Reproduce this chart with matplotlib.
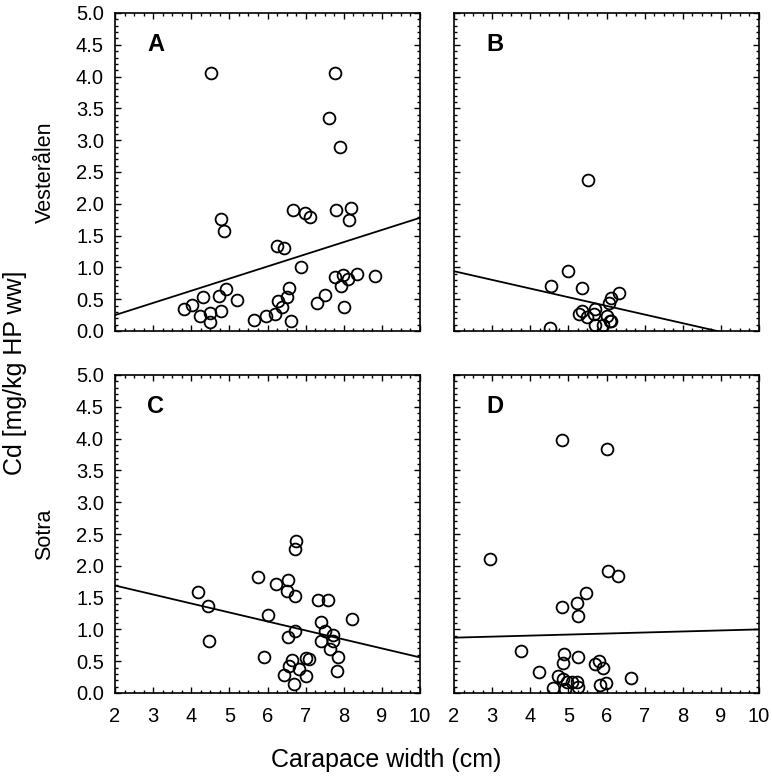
import matplotlib
matplotlib.use("Agg")
import matplotlib.pyplot as plt
from matplotlib.ticker import MultipleLocator, FormatStrFormatter

plt.rcParams["font.family"] = ["Liberation Sans", "DejaVu Sans"]

# ── data (carapace width cm, Cd mg/kg) ────────────────────────────────────
a_x = [4.53, 7.76, 7.60, 7.90, 4.79, 4.86, 6.68, 6.99, 7.12, 7.80, 8.20,
       8.13, 6.26, 6.44, 6.88, 7.78, 7.99, 7.94, 8.12, 8.34, 8.82, 8.00,
       3.82, 4.03, 4.32, 4.24, 4.48, 4.48, 4.73, 4.77, 4.92, 5.21, 5.64,
       5.96, 6.19, 6.28, 6.39, 6.51, 6.56, 6.61, 7.30, 7.50]
a_y = [4.05, 4.05, 3.35, 2.89, 1.76, 1.58, 1.91, 1.85, 1.80, 1.91, 1.93,
       1.75, 1.33, 1.31, 1.00, 0.85, 0.88, 0.70, 0.81, 0.89, 0.87, 0.38,
       0.34, 0.41, 0.53, 0.24, 0.28, 0.14, 0.55, 0.32, 0.66, 0.49, 0.17,
       0.24, 0.26, 0.47, 0.38, 0.54, 0.68, 0.15, 0.44, 0.57]

b_x = [5.51, 4.98, 4.55, 5.37, 6.34, 6.11, 6.07, 5.70, 5.37, 5.29, 5.48,
       5.67, 6.00, 5.70, 5.92, 6.08, 6.12, 4.53]
b_y = [2.38, 0.94, 0.70, 0.68, 0.60, 0.52, 0.44, 0.35, 0.31, 0.26, 0.22,
       0.27, 0.23, 0.10, 0.10, 0.15, 0.16, 0.04]

c_x = [6.76, 6.72, 5.75, 6.22, 6.54, 6.51, 6.73, 4.18, 4.43, 4.46, 6.02,
       7.32, 7.58, 8.22, 7.40, 7.50, 6.72, 6.54, 7.72, 7.41, 7.72, 7.64,
       7.86, 7.81, 5.90, 6.64, 6.57, 6.83, 7.02, 7.09, 6.44, 7.02, 6.69]
c_y = [2.39, 2.26, 1.83, 1.71, 1.78, 1.60, 1.53, 1.59, 1.37, 0.82, 1.23,
       1.47, 1.46, 1.16, 1.12, 0.97, 0.97, 0.88, 0.91, 0.81, 0.82, 0.69,
       0.56, 0.34, 0.56, 0.52, 0.42, 0.38, 0.55, 0.54, 0.28, 0.26, 0.14]

d_x = [4.84, 6.02, 2.95, 6.05, 6.30, 5.46, 5.23, 4.84, 5.26, 3.76, 4.88,
       5.26, 4.85, 5.70, 5.81, 5.90, 4.24, 6.63, 4.74, 4.87, 4.97, 5.09,
       5.22, 5.26, 4.59, 4.90, 5.83, 5.99]
d_y = [3.98, 3.84, 2.10, 1.92, 1.84, 1.58, 1.41, 1.35, 1.21, 0.66, 0.62,
       0.57, 0.47, 0.46, 0.51, 0.40, 0.33, 0.23, 0.27, 0.22, 0.18, 0.17,
       0.17, 0.10, 0.08, 0.06, 0.12, 0.15]

# regression line end points at x = 2 and x = 10
fit_x = [2, 10]
a_fit = [0.25, 1.78]
b_fit = [0.94, -0.15]
c_fit = [1.69, 0.56]
d_fit = [0.87, 1.00]

panels = [
    ("A", a_x, a_y, a_fit, (115, 13)),
    ("B", b_x, b_y, b_fit, (454, 13)),
    ("C", c_x, c_y, c_fit, (115, 375)),
    ("D", d_x, d_y, d_fit, (454, 375)),
]

W, H = 772, 777
AW, AH = 305, 318

fig = plt.figure(figsize=(W / 100, H / 100), dpi=100)

for letter, xs, ys, fit, (px, py) in panels:
    ax = fig.add_axes([px / W, 1 - (py + AH) / H, AW / W, AH / H])
    ax.plot(fit_x, fit, color="black", linewidth=1.3, zorder=2)
    ax.plot(xs, ys, linestyle="none", marker="o", markersize=8.5,
            markerfacecolor="none", markeredgecolor="black",
            markeredgewidth=1.3, zorder=3)
    ax.set_xlim(2, 10)
    ax.set_ylim(0, 5)
    ax.xaxis.set_major_locator(MultipleLocator(1))
    ax.xaxis.set_minor_locator(MultipleLocator(0.25))
    ax.yaxis.set_major_locator(MultipleLocator(0.5))
    ax.yaxis.set_minor_locator(MultipleLocator(0.1))
    ax.yaxis.set_major_formatter(FormatStrFormatter("%.1f"))
    ax.tick_params(which="both", direction="in", top=True, right=True,
                   width=1.0, labelsize=14.5)
    ax.tick_params(which="major", length=4)
    ax.tick_params(which="minor", length=2)
    ax.tick_params(axis="x", pad=10)
    ax.tick_params(axis="y", pad=8)
    for s in ax.spines.values():
        s.set_linewidth(1.2)
    if letter in ("A", "B"):
        ax.tick_params(labelbottom=False)
    if letter in ("B", "D"):
        ax.tick_params(labelleft=False)
    ax.text(0.134, 0.90, letter, transform=ax.transAxes, fontsize=17,
            fontweight="bold", ha="center", va="center")

fig.text(386 / W, 1 - 760 / H, "Carapace width (cm)", fontsize=18,
         ha="center", va="center")
fig.text(15 / W, 1 - 373 / H, "Cd [mg/kg HP ww]", fontsize=18,
         ha="center", va="center", rotation=90)
fig.text(45 / W, 1 - 172 / H, "Vesterålen", fontsize=15.5,
         ha="center", va="center", rotation=90)
fig.text(45 / W, 1 - 534 / H, "Sotra", fontsize=15.5,
         ha="center", va="center", rotation=90)

fig.savefig("out.png", dpi=100, facecolor="white")
